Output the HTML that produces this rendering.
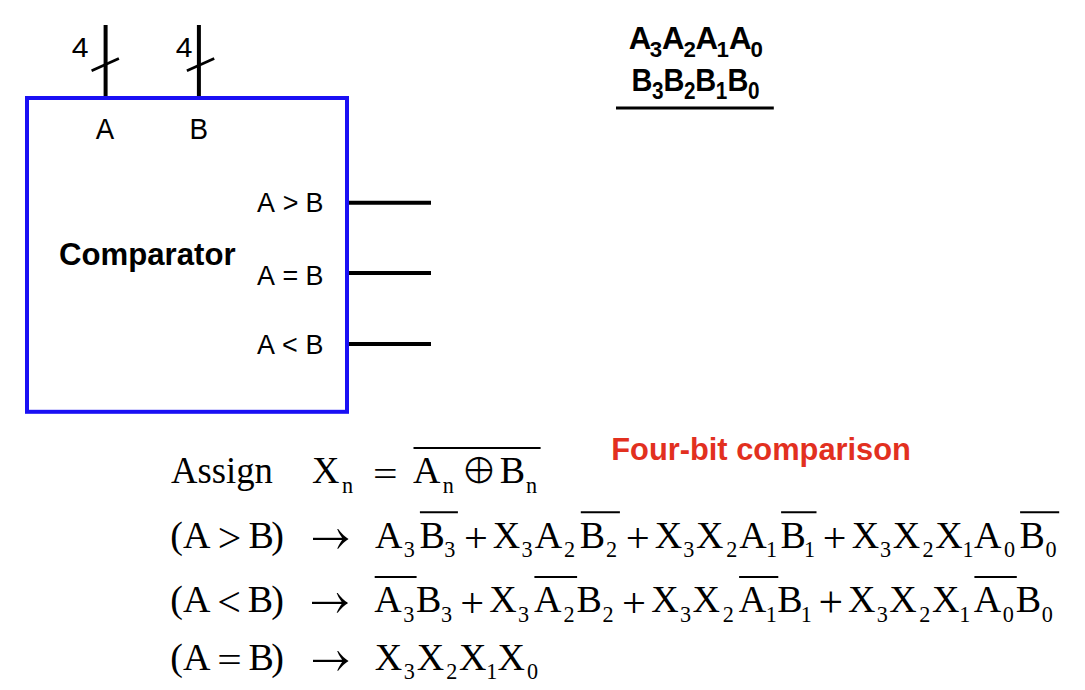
<!DOCTYPE html>
<html lang="en">
<head>
<meta charset="utf-8">
<title>Four-bit comparison</title>
<style>
html, body { margin: 0; padding: 0; background: #ffffff; }
body { width: 1085px; height: 690px; overflow: hidden; }
svg { display: block; }
text { white-space: pre; }
</style>
</head>
<body>
<svg width="1085" height="690" viewBox="0 0 1085 690">
<rect x="0" y="0" width="1085" height="690" fill="#ffffff"/>
<g id="diagram" fill="none">
<rect x="27" y="98" width="320" height="313.8" stroke="#1a10f4" stroke-width="4"/>
<g stroke="#000" stroke-width="4">
<line x1="105.6" y1="25" x2="105.6" y2="96"/>
<line x1="198.9" y1="25" x2="198.9" y2="96"/>
<line x1="349" y1="202.7" x2="431" y2="202.7"/>
<line x1="349" y1="273.1" x2="431" y2="273.1"/>
<line x1="349" y1="344" x2="431" y2="344"/>
</g>
<g stroke="#000" stroke-width="2.6">
<line x1="91.6" y1="70.8" x2="118.9" y2="58.5"/>
<line x1="186.9" y1="70.8" x2="214.2" y2="58.5"/>
</g>
<line x1="616" y1="107.9" x2="773.8" y2="107.9" stroke="#000" stroke-width="3"/>
</g>
<text transform="translate(71.71 57) scale(1.0697 1)" font-family='"Liberation Sans", "DejaVu Sans", sans-serif' font-size="28.2" fill="#000">4</text>
<text transform="translate(175.71 57) scale(1.0626 1)" font-family='"Liberation Sans", "DejaVu Sans", sans-serif' font-size="28.2" fill="#000">4</text>
<text transform="translate(95.75 139.1) scale(0.9451 1)" font-family='"Liberation Sans", "DejaVu Sans", sans-serif' font-size="29.2" fill="#000">A</text>
<text transform="translate(189.52 139.1) scale(0.9523 1)" font-family='"Liberation Sans", "DejaVu Sans", sans-serif' font-size="29.2" fill="#000">B</text>
<text transform="scale(0.955 1)" x="269.08 287.89 296.05 312.52 319.92" y="211.6" font-family='"Liberation Sans", "DejaVu Sans", sans-serif' font-size="28.2" fill="#000">A &gt; B</text>
<text transform="scale(0.955 1)" x="269.08 287.89 295.75 312.22 319.92" y="284.7" font-family='"Liberation Sans", "DejaVu Sans", sans-serif' font-size="28.2" fill="#000">A = B</text>
<text transform="scale(0.955 1)" x="269.08 287.89 295.42 311.89 319.92" y="354.5" font-family='"Liberation Sans", "DejaVu Sans", sans-serif' font-size="28.2" fill="#000">A &lt; B</text>
<text transform="translate(59.02 265) scale(0.968 1)" font-family='"Liberation Sans", "DejaVu Sans", sans-serif' font-size="32.2" font-weight="bold" fill="#000">Comparator</text>
<text transform="translate(611.24 459.8) scale(1.0076 1)" font-family='"Liberation Sans", "DejaVu Sans", sans-serif' font-size="30.6" font-weight="bold" fill="#e2301f">Four-bit comparison</text>
<text transform="scale(0.97 1)" font-family='"Liberation Sans", "DejaVu Sans", sans-serif' font-weight="bold" font-size="32.2" fill="#000"><tspan x="648.09" y="49">A</tspan><tspan x="669.79" y="57.3" font-size="23.0">3</tspan><tspan x="682.52" y="49">A</tspan><tspan x="704.65" y="57.3" font-size="23.0">2</tspan><tspan x="717.06" y="49">A</tspan><tspan x="738.66" y="57.3" font-size="23.0">1</tspan><tspan x="751.49" y="49">A</tspan><tspan x="773.72" y="57.3" font-size="23.0">0</tspan></text>
<text transform="scale(0.9 1)" font-family='"Liberation Sans", "DejaVu Sans", sans-serif' font-weight="bold" font-size="32.2" fill="#000"><tspan x="701.58" y="90.7">B</tspan><tspan x="724.42" y="99.5" font-size="23.0">3</tspan><tspan x="737.25" y="90.7">B</tspan><tspan x="759.94" y="99.5" font-size="23.0">2</tspan><tspan x="772.47" y="90.7">B</tspan><tspan x="795.31" y="99.5" font-size="23.0">1</tspan><tspan x="808.3" y="90.7">B</tspan><tspan x="831.01" y="99.5" font-size="23.0">0</tspan></text>
<text font-family='"Liberation Serif", "DejaVu Serif", serif' font-size="38" fill="#000"><tspan x="171.04" y="483.3" textLength="101.91" lengthAdjust="spacingAndGlyphs">Assign</tspan><tspan x="312" y="483.3">X</tspan><tspan x="342.11" y="492.6" font-size="22.2">n</tspan><tspan x="413.08" y="483.3">A</tspan><tspan x="442.86" y="492.6" font-size="22.2">n</tspan><tspan x="460.24" y="483.95" font-family='"DejaVu Serif", "DejaVu Sans", "Liberation Serif", serif' font-size="44.66" stroke="#fff" stroke-width="1.3">⊕</tspan><tspan x="499.81" y="483.3">B</tspan><tspan x="526.06" y="492.6" font-size="22.2">n</tspan></text>
<text transform="translate(372.93 485.96) scale(1.2118 0.9713)" font-family='"Liberation Serif", "DejaVu Serif", serif' font-size="36" fill="#000">=</text>
<line x1="413.5" y1="448.1" x2="540.6" y2="448.1" stroke="#000" stroke-width="2.0"/>
<text font-family='"Liberation Serif", "DejaVu Serif", serif' font-size="38" fill="#000"><tspan x="170.2" y="547.9">(</tspan><tspan x="182.98" y="547.9">A</tspan><tspan x="217.78" y="552.04" font-size="41.69">&gt;</tspan><tspan x="248.46" y="547.9">B</tspan><tspan x="271.25" y="547.9">)</tspan><tspan x="374.88" y="547.9">A</tspan><tspan x="403.65" y="557.2" font-size="22.2">3</tspan><tspan x="419.46" y="547.9">B</tspan><tspan x="444.15" y="557.2" font-size="22.2">3</tspan><tspan x="463.89" y="552.26" font-size="42.34">+</tspan><tspan x="492.75" y="547.9">X</tspan><tspan x="521.55" y="557.2" font-size="22.2">3</tspan><tspan x="534.63" y="547.9">A</tspan><tspan x="564.02" y="557.2" font-size="22.2">2</tspan><tspan x="579.76" y="547.9">B</tspan><tspan x="606.12" y="557.2" font-size="22.2">2</tspan><tspan x="625.68" y="552.33" font-size="42.55">+</tspan><tspan x="654.85" y="547.9">X</tspan><tspan x="683.35" y="557.2" font-size="22.2">3</tspan><tspan x="696" y="547.9">X</tspan><tspan x="726.22" y="557.2" font-size="22.2">2</tspan><tspan x="739.23" y="547.9">A</tspan><tspan x="766.04" y="557.2" font-size="22.2">1</tspan><tspan x="780.61" y="547.9">B</tspan><tspan x="803.99" y="557.2" font-size="22.2">1</tspan><tspan x="822.71" y="552.11" font-size="41.91">+</tspan><tspan x="851.65" y="547.9">X</tspan><tspan x="880.1" y="557.2" font-size="22.2">3</tspan><tspan x="892.85" y="547.9">X</tspan><tspan x="922.62" y="557.2" font-size="22.2">2</tspan><tspan x="935.25" y="547.9">X</tspan><tspan x="962.59" y="557.2" font-size="22.2">1</tspan><tspan x="973.98" y="547.9">A</tspan><tspan x="1003.95" y="557.2" font-size="22.2">0</tspan><tspan x="1019.56" y="547.9">B</tspan><tspan x="1045.45" y="557.2" font-size="22.2">0</tspan></text>
<svg x="313" y="524.8" width="37.1" height="28" viewBox="313 524.8 37.1 28" overflow="hidden"><text transform="translate(286.52 554.1) scale(0.8500 1)" font-family='"Liberation Serif", "DejaVu Serif", serif' font-size="92.16" fill="#000" stroke="#fff" stroke-width="1.8">→</text></svg>
<line x1="419.9" y1="512.2" x2="457.9" y2="512.2" stroke="#000" stroke-width="2.0"/>
<line x1="580.8" y1="512.2" x2="619.9" y2="512.2" stroke="#000" stroke-width="2.0"/>
<line x1="781.1" y1="512.2" x2="816.5" y2="512.2" stroke="#000" stroke-width="2.0"/>
<line x1="1020.1" y1="512.2" x2="1059.2" y2="512.2" stroke="#000" stroke-width="2.0"/>
<text font-family='"Liberation Serif", "DejaVu Serif", serif' font-size="38" fill="#000"><tspan x="170.2" y="612.2">(</tspan><tspan x="182.98" y="612.2">A</tspan><tspan x="217.31" y="616.41" font-size="41.91">&lt;</tspan><tspan x="247.71" y="612.2">B</tspan><tspan x="271.15" y="612.2">)</tspan><tspan x="374.33" y="612.2">A</tspan><tspan x="403.2" y="621.5" font-size="22.2">3</tspan><tspan x="416.06" y="612.2">B</tspan><tspan x="440.95" y="621.5" font-size="22.2">3</tspan><tspan x="460.19" y="616.56" font-size="42.34">+</tspan><tspan x="489.15" y="612.2">X</tspan><tspan x="518.05" y="621.5" font-size="22.2">3</tspan><tspan x="533.88" y="612.2">A</tspan><tspan x="563.62" y="621.5" font-size="22.2">2</tspan><tspan x="576.56" y="612.2">B</tspan><tspan x="602.62" y="621.5" font-size="22.2">2</tspan><tspan x="621.98" y="616.63" font-size="42.55">+</tspan><tspan x="651.35" y="612.2">X</tspan><tspan x="680.05" y="621.5" font-size="22.2">3</tspan><tspan x="692.6" y="612.2">X</tspan><tspan x="722.67" y="621.5" font-size="22.2">2</tspan><tspan x="738.68" y="612.2">A</tspan><tspan x="765.79" y="621.5" font-size="22.2">1</tspan><tspan x="777.36" y="612.2">B</tspan><tspan x="800.79" y="621.5" font-size="22.2">1</tspan><tspan x="818.53" y="616.98" font-size="43.62">+</tspan><tspan x="847.95" y="612.2">X</tspan><tspan x="876.65" y="621.5" font-size="22.2">3</tspan><tspan x="889.15" y="612.2">X</tspan><tspan x="919.32" y="621.5" font-size="22.2">2</tspan><tspan x="931.95" y="612.2">X</tspan><tspan x="959.14" y="621.5" font-size="22.2">1</tspan><tspan x="973.83" y="612.2">A</tspan><tspan x="1002.75" y="621.5" font-size="22.2">0</tspan><tspan x="1015.86" y="612.2">B</tspan><tspan x="1041.75" y="621.5" font-size="22.2">0</tspan></text>
<svg x="312" y="589.1" width="37.6" height="28" viewBox="312 589.1 37.6 28" overflow="hidden"><text transform="translate(286.02 618.4) scale(0.8500 1)" font-family='"Liberation Serif", "DejaVu Serif", serif' font-size="92.16" fill="#000" stroke="#fff" stroke-width="1.8">→</text></svg>
<line x1="374.7" y1="577" x2="416.6" y2="577" stroke="#000" stroke-width="2.0"/>
<line x1="534.4" y1="577" x2="577.1" y2="577" stroke="#000" stroke-width="2.0"/>
<line x1="739.1" y1="577" x2="778.3" y2="577" stroke="#000" stroke-width="2.0"/>
<line x1="974.4" y1="577" x2="1016.8" y2="577" stroke="#000" stroke-width="2.0"/>
<text font-family='"Liberation Serif", "DejaVu Serif", serif' font-size="38" fill="#000"><tspan x="170.2" y="669.8">(</tspan><tspan x="182.98" y="669.8">A</tspan><tspan x="248.46" y="669.8">B</tspan><tspan x="271.25" y="669.8">)</tspan><tspan x="374.85" y="669.8">X</tspan><tspan x="403.65" y="679.1" font-size="22.2">3</tspan><tspan x="416.7" y="669.8">X</tspan><tspan x="446.27" y="679.1" font-size="22.2">2</tspan><tspan x="459.1" y="669.8">X</tspan><tspan x="486.19" y="679.1" font-size="22.2">1</tspan><tspan x="497.45" y="669.8">X</tspan><tspan x="526.9" y="679.1" font-size="22.2">0</tspan></text>
<svg x="313" y="646.7" width="37" height="28" viewBox="313 646.7 37 28" overflow="hidden"><text transform="translate(286.42 676) scale(0.8500 1)" font-family='"Liberation Serif", "DejaVu Serif", serif' font-size="92.16" fill="#000" stroke="#fff" stroke-width="1.8">→</text></svg>
<text transform="translate(217.24 672.46) scale(1.2058 0.9713)" font-family='"Liberation Serif", "DejaVu Serif", serif' font-size="36" fill="#000">=</text>
</svg>
</body>
</html>
